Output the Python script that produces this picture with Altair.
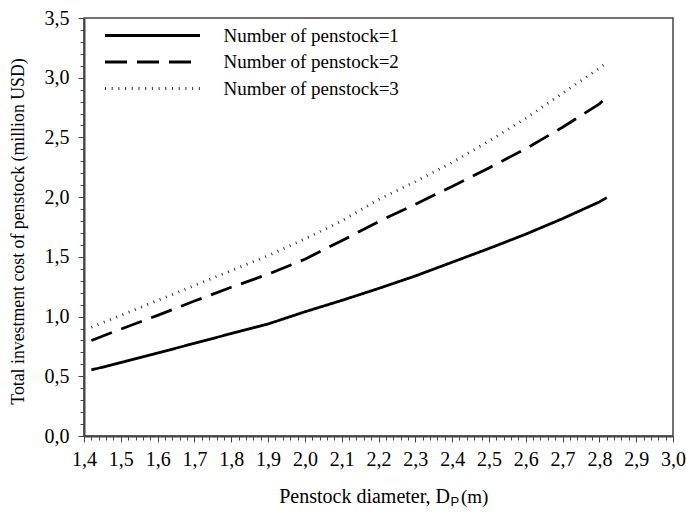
import altair as alt
import pandas as pd

diameter = [1.42, 1.5, 1.6, 1.7, 1.8, 1.9, 2.0, 2.1, 2.2, 2.3, 2.4, 2.5, 2.6, 2.7, 2.8, 2.82]
cost_1 = [0.553, 0.615, 0.695, 0.776, 0.858, 0.938, 1.04, 1.135, 1.235, 1.34, 1.455, 1.57, 1.69, 1.82, 1.96, 1.996]
cost_2 = [0.80, 0.895, 1.01, 1.13, 1.245, 1.355, 1.48, 1.635, 1.795, 1.94, 2.09, 2.245, 2.405, 2.585, 2.78, 2.84]
cost_3 = [0.91, 1.01, 1.135, 1.26, 1.385, 1.51, 1.65, 1.80, 1.98, 2.13, 2.29, 2.47, 2.66, 2.87, 3.08, 3.125]
series_names = ["Number of penstock=1", "Number of penstock=2", "Number of penstock=3"]

x_ticks = [round(1.4 + 0.02 * i, 2) for i in range(81)]
y_ticks = [round(0.1 * i, 1) for i in range(36)]

rows = []
for name, vals in zip(series_names, [cost_1, cost_2, cost_3]):
    for d, v in zip(diameter, vals):
        rows.append({"series": name, "d": d, "cost": v})
df = pd.DataFrame(rows)

SERIF = "Liberation Serif"

x_axis = alt.Axis(
    values=x_ticks,
    title=None,
    labelExpr="abs(datum.value*10 - round(datum.value*10)) < 0.001 ? replace(format(datum.value, '.1f'), '.', ',') : ''",
    labelOverlap=False, labelFlush=False,
    labelFont=SERIF, labelFontSize=20, labelColor="black", labelPadding=7,
    tickSize={"condition": {"test": "abs(datum.value*10 - round(datum.value*10)) < 0.001", "value": 6}, "value": 4},
    tickColor="#444", domainColor="#444", domainWidth=2, grid=False,
)
y_axis = alt.Axis(
    values=y_ticks,
    title="Total investment cost of penstock (million USD)",
    titleFont=SERIF, titleFontSize=17.8, titleFontWeight="normal", titleColor="black",
    titleAngle=-90, titleAlign="center", titleBaseline="middle", titleX=-66, titleY=213,
    labelExpr="abs(datum.value*2 - round(datum.value*2)) < 0.001 ? replace(format(datum.value, '.1f'), '.', ',') : ''",
    labelOverlap=False, labelFlush=False,
    labelFont=SERIF, labelFontSize=20, labelColor="black", labelPadding=9,
    tickSize={"condition": {"test": "abs(datum.value*2 - round(datum.value*2)) < 0.001", "value": 6}, "value": 4},
    tickColor="#444", domainColor="#444", domainWidth=2, grid=False,
)

lines = alt.Chart(df).mark_line(clip=True).encode(
    x=alt.X("d:Q", scale=alt.Scale(domain=[1.4, 3.0], nice=False, zero=False), axis=x_axis),
    y=alt.Y("cost:Q", scale=alt.Scale(domain=[0, 3.5], nice=False), axis=y_axis),
    color=alt.Color("series:N", scale=alt.Scale(domain=series_names, range=["black", "black", "#333333"]), legend=alt.Legend(title=None)),
    strokeDash=alt.StrokeDash("series:N", scale=alt.Scale(domain=series_names, range=[[1, 0], [22, 10], [1, 5.7]]), legend=alt.Legend(title=None)),
    strokeWidth=alt.StrokeWidth("series:N", scale=alt.Scale(domain=series_names, range=[2.8, 2.8, 1.3]), legend=alt.Legend(title=None)),
    order=alt.Order("d:Q"),
)

title_main = alt.Chart().mark_text(
    text="Penstock diameter, D", font=SERIF, fontSize=20, align="right", baseline="alphabetic", color="black"
).encode(x=alt.value(366), y=alt.value(485))
title_sub = alt.Chart().mark_text(
    text="P", font="Liberation Sans", fontSize=13, align="left", baseline="alphabetic", color="black"
).encode(x=alt.value(366.5), y=alt.value(488))
title_unit = alt.Chart().mark_text(
    text="(m)", font=SERIF, fontSize=19, align="left", baseline="alphabetic", color="black"
).encode(x=alt.value(377), y=alt.value(485))

chart = alt.layer(lines, title_main, title_sub, title_unit).properties(
    width=589, height=418,
    padding={"left": 84, "top": 18, "right": 13, "bottom": 76},
    autosize=alt.AutoSizeParams(type="none"),
).configure_view(
    stroke="#444", strokeWidth=1.5
).configure_legend(
    orient="none", legendX=57.5, legendY=6.5,
    labelFont=SERIF, labelFontSize=19, labelColor="black", labelOffset=60, labelLimit=0,
    symbolSize=361, symbolType="M-5,0H5", rowPadding=5.5, padding=0,
)

chart.save("out.html", embed_options={"renderer": "svg", "actions": False})
